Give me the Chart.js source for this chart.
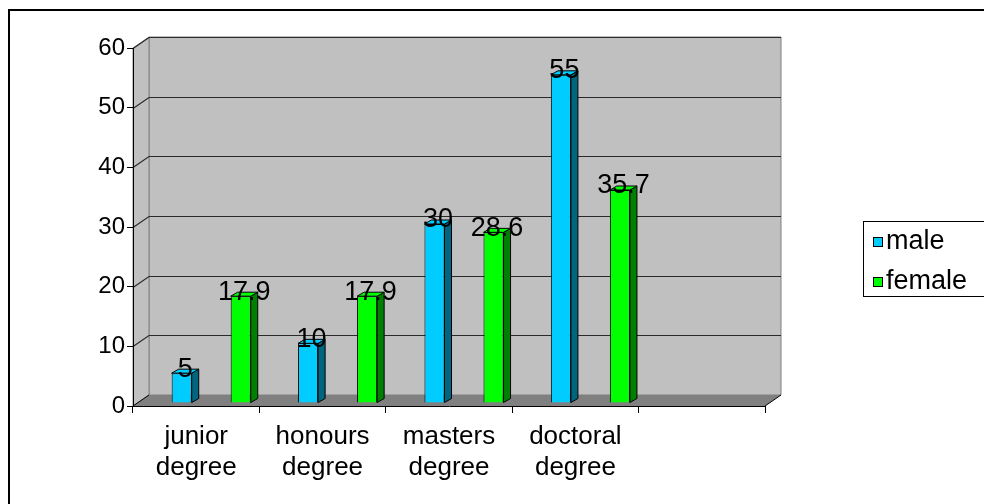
<!DOCTYPE html>
<html>
<head>
<meta charset="utf-8">
<script src="https://cdn.jsdelivr.net/npm/chart.js@4/dist/chart.umd.min.js"></script>
<style>
  html, body { margin: 0; padding: 0; background: #fff; }
  #wrap { width: 984px; height: 504px; }
</style>
</head>
<body>
<div id="wrap"><canvas id="degreeChart" width="984" height="504"></canvas></div>
<script>
// data
const categories = [['junior', 'degree'], ['honours', 'degree'], ['masters', 'degree'], ['doctoral', 'degree'], ''];
const maleValues = [5, 10, 30, 55, null];
const femaleValues = [17.9, 17.9, 28.6, 35.7, null];
const yTicks = [0, 10, 20, 30, 40, 50, 60];
const seriesNames = ['male', 'female'];

const FONT = '"Liberation Sans", Arial, sans-serif';
const faceColors = ['#00CCFF', '#00FF00'];
const sideColors = ['#00667F', '#008000'];
const WALL = { dx: 16, dy: 11 };   // depth of the 3d box
const SHIFT = { dx: 15, dy: 3 };   // bars sit half way into the box
const BAR = { dx: 7, dy: 4 };      // depth of each column

function poly(ctx, pts, fill, stroke) {
  ctx.beginPath();
  ctx.moveTo(pts[0][0], pts[0][1]);
  for (let i = 1; i < pts.length; i++) ctx.lineTo(pts[i][0], pts[i][1]);
  ctx.closePath();
  if (fill) { ctx.fillStyle = fill; ctx.fill(); }
  if (stroke) { ctx.strokeStyle = stroke; ctx.lineWidth = 1; ctx.stroke(); }
}

const box3d = {
  id: 'box3d',
  beforeDraw(chart) {
    const { ctx, chartArea: a, scales } = chart;
    const L = a.left, R = a.right, T = a.top, B = a.bottom;
    ctx.save();
    // outer frame (only top and left are in view)
    ctx.strokeStyle = '#000';
    ctx.lineWidth = 2;
    ctx.beginPath();
    ctx.moveTo(9, 520); ctx.lineTo(9, 10); ctx.lineTo(1000, 10);
    ctx.stroke();
    // back wall
    poly(ctx, [[L + WALL.dx, T - WALL.dy], [R + WALL.dx, T - WALL.dy], [R + WALL.dx, B - WALL.dy], [L + WALL.dx, B - WALL.dy]], '#C0C0C0', '#808080');
    // left wall
    poly(ctx, [[L, T], [L + WALL.dx, T - WALL.dy], [L + WALL.dx, B - WALL.dy], [L, B]], '#C0C0C0', '#808080');
    // gridlines on the walls
    ctx.strokeStyle = '#2a2a2a';
    ctx.lineWidth = 1.2;
    scales.y.ticks.forEach(t => {
      if (t.value === 0) return;
      const y = Math.round(scales.y.getPixelForValue(t.value)) + 0.5;
      ctx.beginPath();
      ctx.moveTo(L, y);
      ctx.lineTo(L + WALL.dx, y - WALL.dy);
      ctx.lineTo(R + WALL.dx, y - WALL.dy);
      ctx.stroke();
    });
    // floor
    poly(ctx, [[L, B], [R, B], [R + WALL.dx, B - WALL.dy], [L + WALL.dx, B - WALL.dy]], '#808080', null);
    ctx.strokeStyle = '#000';
    ctx.lineWidth = 1;
    ctx.beginPath();
    ctx.moveTo(L, B); ctx.lineTo(L + WALL.dx, B - WALL.dy);
    ctx.moveTo(R, B); ctx.lineTo(R + WALL.dx, B - WALL.dy);
    ctx.stroke();
    ctx.restore();
  },
  beforeDatasetsDraw(chart) {
    chart.ctx.save();
    chart.ctx.translate(SHIFT.dx, -SHIFT.dy);
  },
  afterDatasetsDraw(chart) {
    const ctx = chart.ctx;
    chart.data.datasets.forEach((ds, di) => {
      const meta = chart.getDatasetMeta(di);
      meta.data.forEach((bar, i) => {
        if (ds.data[i] == null) return;
        const p = bar.getProps(['x', 'y', 'base', 'width'], true);
        const l = p.x - p.width / 2, r = p.x + p.width / 2;
        poly(ctx, [[r, p.y], [r + BAR.dx, p.y - BAR.dy], [r + BAR.dx, p.base - BAR.dy], [r, p.base]], sideColors[di], '#000');
        poly(ctx, [[l, p.y], [l + BAR.dx, p.y - BAR.dy], [r + BAR.dx, p.y - BAR.dy], [r, p.y]], faceColors[di], '#000');
      });
    });
    // value labels
    ctx.fillStyle = '#000';
    ctx.font = '27px ' + FONT;
    ctx.textAlign = 'center';
    ctx.textBaseline = 'middle';
    chart.data.datasets.forEach((ds, di) => {
      const meta = chart.getDatasetMeta(di);
      meta.data.forEach((bar, i) => {
        if (ds.data[i] == null) return;
        ctx.fillText(String(ds.data[i]), bar.x + BAR.dx / 2, bar.y - 4);
      });
    });
    ctx.restore();
  },
  afterDraw(chart) {
    const ctx = chart.ctx;
    ctx.save();
    ctx.strokeStyle = '#000';
    ctx.lineWidth = 1;
    ctx.strokeRect(863.5, 221.5, 140, 75);
    ctx.font = '27px ' + FONT;
    ctx.textBaseline = 'middle';
    ctx.textAlign = 'left';
    seriesNames.forEach((name, i) => {
      const y = 242 + i * 40;
      ctx.fillStyle = faceColors[i];
      ctx.fillRect(873, y - 5, 10, 10);
      ctx.strokeRect(873.5, y - 4.5, 9, 9);
      ctx.fillStyle = '#000';
      ctx.fillText(name, 886, y);
    });
    ctx.restore();
  }
};

new Chart(document.getElementById('degreeChart').getContext('2d'), {
  type: 'bar',
  data: {
    labels: categories,
    datasets: [
      { label: seriesNames[0], data: maleValues, backgroundColor: faceColors[0], borderColor: '#000', borderWidth: 1 },
      { label: seriesNames[1], data: femaleValues, backgroundColor: faceColors[1], borderColor: '#000', borderWidth: 1 }
    ]
  },
  options: {
    responsive: false,
    animation: false,
    devicePixelRatio: 1,
    categoryPercentage: 0.934,
    barPercentage: 0.34,
    layout: { padding: { left: 0, top: 48, right: 219, bottom: 0 } },
    plugins: { legend: { display: false }, tooltip: { enabled: false } },
    scales: {
      x: {
        afterFit: s => { s.height = 98; },
        grid: { offset: true, drawOnChartArea: false, tickLength: 7, color: '#000' },
        border: { color: '#000' },
        ticks: { color: '#000', padding: 8, maxRotation: 0, autoSkip: false, font: { family: FONT, size: 26, lineHeight: 1.2 } }
      },
      y: {
        min: yTicks[0],
        max: yTicks[yTicks.length - 1],
        afterFit: s => { s.width = 133; },
        grid: { drawOnChartArea: false, tickLength: 6, color: '#000' },
        border: { color: '#000' },
        ticks: { stepSize: yTicks[1] - yTicks[0], color: '#000', padding: 2, font: { family: FONT, size: 24 } }
      }
    }
  },
  plugins: [box3d]
});
</script>
</body>
</html>
